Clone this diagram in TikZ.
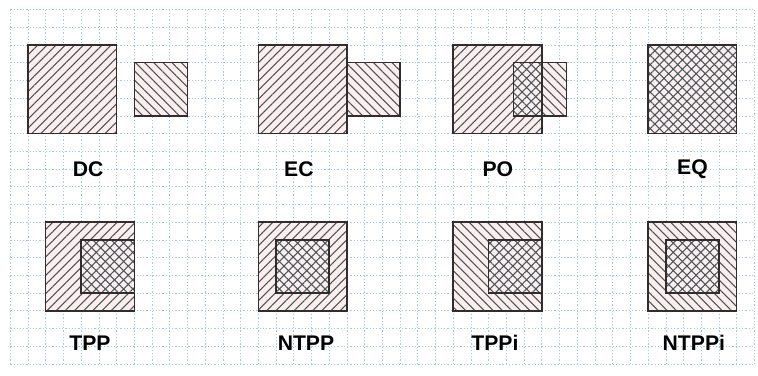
\documentclass[tikz,border=0pt]{standalone}
\usepackage{fontspec}
\setmainfont{Liberation Sans}
\usetikzlibrary{patterns.meta}
\definecolor{gridblue}{RGB}{165,200,218}
\definecolor{hatch}{RGB}{70,84,94}
\definecolor{edge}{RGB}{50,45,45}
\definecolor{tint}{RGB}{251,238,236}

\begin{document}
\begin{tikzpicture}[x=0.5cm,y=0.5cm,
  hatchA/.style={pattern={Lines[angle=45,distance=5.2pt,line width=0.85pt]},pattern color=hatch},
  hatchB/.style={pattern={Lines[angle=-45,distance=5.2pt,line width=0.85pt]},pattern color=hatch},
  box/.style={draw=edge,line width=1.2pt},
  lbl/.style={font=\fontsize{17}{20}\selectfont\bfseries}]
\useasboundingbox[fill=white] (-1.58,2.54) rectangle (41.2,-18.68);

\draw[step=1,gridblue,line width=0.55pt,dash pattern=on 1pt off 1.6pt] (-1,2) grid (41,-18);

% tinted regions
\fill[tint] (0,0) rectangle (5,-5);   \fill[tint] (6,-1) rectangle (9,-4);
\fill[tint] (13,0) rectangle (18,-5); \fill[tint] (18,-1) rectangle (21,-4);
\fill[tint] (24,0) rectangle (29,-5); \fill[tint] (27.4,-1) rectangle (30.4,-4);
\fill[tint] (35,0) rectangle (40,-5);
\fill[tint] (1,-10) rectangle (6,-15);
\fill[tint] (13,-10) rectangle (18,-15);
\fill[tint] (24,-10) rectangle (29,-15);
\fill[tint] (35,-10) rectangle (40,-15);

% top row
\fill[hatchA] (0,0) rectangle (5,-5);
\fill[hatchB] (6,-1) rectangle (9,-4);
\fill[hatchA] (13,0) rectangle (18,-5);
\fill[hatchB] (18,-1) rectangle (21,-4);
\fill[hatchA] (24,0) rectangle (29,-5);
\fill[hatchB] (27.4,-1) rectangle (30.4,-4);
\fill[hatchA] (35,0) rectangle (40,-5);
\fill[hatchB] (35,0) rectangle (40,-5);

\draw[box] (0,0) rectangle (5,-5);
\draw[box] (6,-1) rectangle (9,-4);
\draw[box] (13,0) rectangle (18,-5);
\draw[box] (18,-1) rectangle (21,-4);
\draw[box] (24,0) rectangle (29,-5);
\draw[box] (27.4,-1) rectangle (30.4,-4);
\draw[box] (35,0) rectangle (40,-5);

% bottom row
\fill[hatchA] (1,-10) rectangle (6,-15);
\fill[hatchB] (3,-11) rectangle (6,-14);
\fill[hatchA] (13,-10) rectangle (18,-15);
\fill[hatchB] (14,-11) rectangle (17,-14);
\fill[hatchB] (24,-10) rectangle (29,-15);
\fill[hatchA] (26,-11) rectangle (29,-14);
\fill[hatchB] (35,-10) rectangle (40,-15);
\fill[hatchA] (36,-11) rectangle (39,-14);

\draw[box] (1,-10) rectangle (6,-15);
\draw[box] (3,-11) rectangle (6,-14);
\draw[box] (13,-10) rectangle (18,-15);
\draw[box] (14,-11) rectangle (17,-14);
\draw[box] (24,-10) rectangle (29,-15);
\draw[box] (26,-11) rectangle (29,-14);
\draw[box] (35,-10) rectangle (40,-15);
\draw[box] (36,-11) rectangle (39,-14);

\node[lbl] (dc) at (3.39,-7.0) {DC};
\node[lbl] (ec) at (15.29,-7.0) {EC};
\node[lbl] (po) at (26.52,-7.0) {PO};
\node[lbl] (eq) at (37.5,-7.0) {EQ};

\node[lbl] (tpp) at (3.5,-16.82) {TPP};
\node[lbl] (ntpp) at (15.69,-16.82) {NTPP};
\node[lbl] (tppi) at (26.35,-16.82) {TPPi};
\node[lbl] (ntppi) at (37.58,-16.82) {NTPPi};
\end{tikzpicture}
\end{document}
